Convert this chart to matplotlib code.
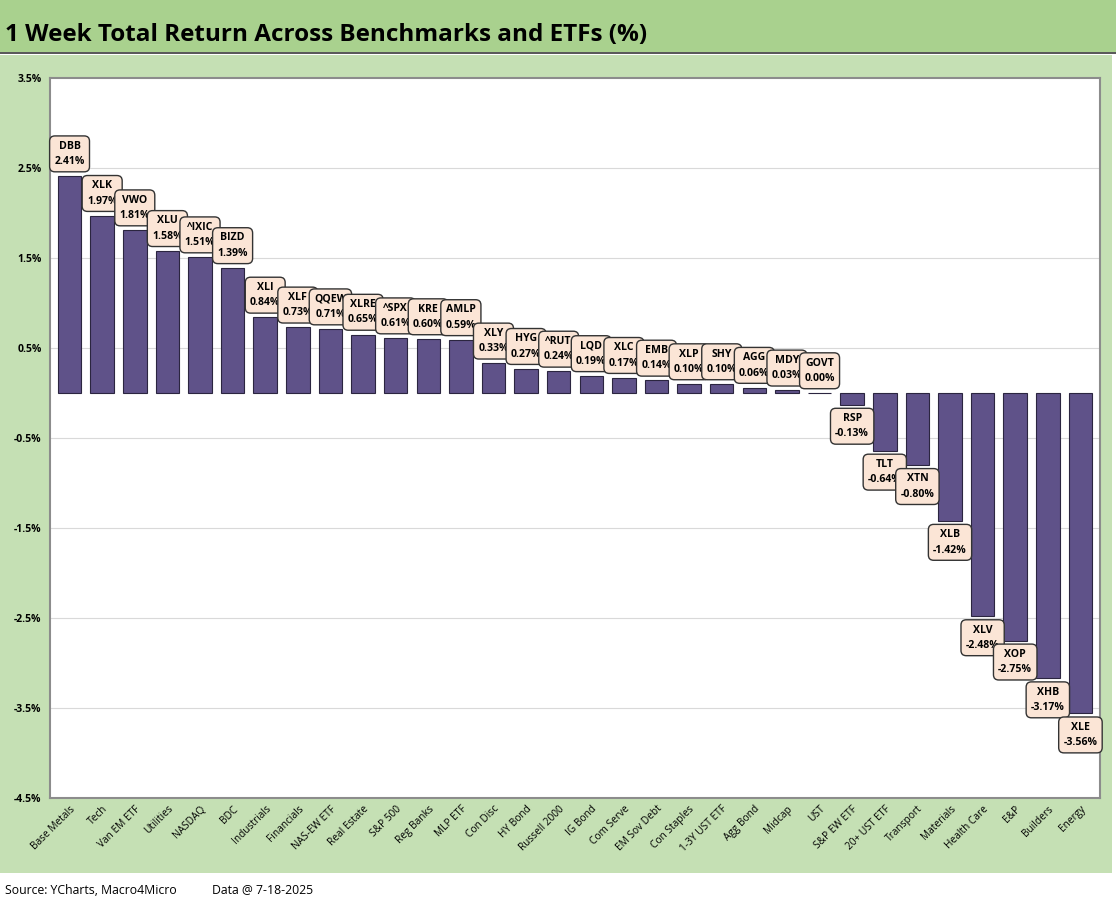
import matplotlib
matplotlib.use('Agg')
import matplotlib.pyplot as plt
from matplotlib.patches import Rectangle

# 1 week total returns (%) - data @ 7-18-2025
categories = ['Base Metals', 'Tech', 'Van EM ETF', 'Utilities', 'NASDAQ', 'BDC',
              'Industrials', 'Financials', 'NAS-EW ETF', 'Real Estate', 'S&P 500',
              'Reg Banks', 'MLP ETF', 'Con Disc', 'HY Bond', 'Russell 2000', 'IG Bond',
              'Com Serve', 'EM Sov Debt', 'Con Staples', '1-3Y UST ETF', 'Agg Bond',
              'Midcap', 'UST', 'S&P EW ETF', '20+ UST ETF', 'Transport', 'Materials',
              'Health Care', 'E&P', 'Builders', 'Energy']
tickers = ['DBB', 'XLK', 'VWO', 'XLU', '^IXIC', 'BIZD', 'XLI', 'XLF', 'QQEW', 'XLRE',
           '^SPX', 'KRE', 'AMLP', 'XLY', 'HYG', '^RUT', 'LQD', 'XLC', 'EMB', 'XLP',
           'SHY', 'AGG', 'MDY', 'GOVT', 'RSP', 'TLT', 'XTN', 'XLB', 'XLV', 'XOP',
           'XHB', 'XLE']
returns = [2.41, 1.97, 1.81, 1.58, 1.51, 1.39, 0.84, 0.73, 0.71, 0.65, 0.61, 0.60,
           0.59, 0.33, 0.27, 0.24, 0.19, 0.17, 0.14, 0.10, 0.10, 0.06, 0.03, 0.00,
           -0.13, -0.64, -0.80, -1.42, -2.48, -2.75, -3.17, -3.56]
y_ticks = [-4.5, -3.5, -2.5, -1.5, -0.5, 0.5, 1.5, 2.5, 3.5]

plt.rcParams['font.family'] = ['Open Sans', 'DejaVu Sans']

W, H = 1116, 911
fig = plt.figure(figsize=(W / 100, H / 100), dpi=100)
fig.patch.set_facecolor('white')

# background panels
fig.patches.append(Rectangle((0, 1 - 52 / H), 1, 52 / H, transform=fig.transFigure,
                             facecolor='#A9D18E', edgecolor='none', zorder=-2))
fig.patches.append(Rectangle((0, 1 - 54 / H), 1, 2 / H, transform=fig.transFigure,
                             facecolor='#5a5a5a', edgecolor='none', zorder=-2))
fig.patches.append(Rectangle((0, 1 - 873 / H), 1112 / W, (873 - 55) / H,
                             transform=fig.transFigure, facecolor='#C5E0B4',
                             edgecolor='none', zorder=-2))
fig.text(5 / W, 1 - 35 / H, '1 Week Total Return Across Benchmarks and ETFs (%)',
         fontsize=17.5, fontweight='bold', va='center', ha='left')
fig.text(5 / W, 1 - 890 / H, 'Source: YCharts, Macro4Micro', fontsize=8.8,
         va='center', ha='left')
fig.text(212 / W, 1 - 890 / H, 'Data @ 7-18-2025', fontsize=8.8,
         va='center', ha='left')

ax = fig.add_axes([50 / W, 1 - 798 / H, (1100 - 50) / W, (798 - 78) / H])
ax.set_zorder(5)
ax.set_facecolor('white')
x = list(range(len(categories)))
ax.bar(x, returns, width=0.72, color='#5F5289', edgecolor='#2b2540', linewidth=0.8,
       zorder=2)

ax.set_ylim(-4.5, 3.5)
ax.set_xlim(-0.6, len(categories) - 0.4)
ax.set_yticks(y_ticks)
ax.set_yticklabels([f'{t:.1f}%' for t in y_ticks], fontsize=7.5, fontweight='bold')
ax.set_xticks(x)
ax.set_xticklabels(categories, rotation=45, ha='right', rotation_mode='anchor',
                   fontsize=7.3)
ax.tick_params(length=0, pad=6)
ax.tick_params(axis='x', pad=4)
for t in y_ticks[1:-1]:
    ax.axhline(t, color='#d9d9d9', linewidth=0.8, zorder=1)
for s in ax.spines.values():
    s.set_color('#8c8c8c')
    s.set_linewidth(1.5)

for i, v in enumerate(returns):
    label = f'{tickers[i]}\n{v:.2f}%'
    if v >= 0:
        ax.annotate(label, (i, v), xytext=(0, 6.5), textcoords='offset points',
                    ha='center', va='bottom', fontsize=7.6, fontweight='bold',
                    linespacing=1.55, zorder=4,
                    bbox=dict(boxstyle='round,pad=0.45,rounding_size=0.5',
                              fc='#FBE5D6', ec='#333333', lw=1.0))
    else:
        ax.annotate(label, (i, v), xytext=(0, -6), textcoords='offset points',
                    ha='center', va='top', fontsize=7.6, fontweight='bold',
                    linespacing=1.55, zorder=4,
                    bbox=dict(boxstyle='round,pad=0.45,rounding_size=0.5',
                              fc='#FBE5D6', ec='#333333', lw=1.0))

fig.savefig('out.png', dpi=100)
